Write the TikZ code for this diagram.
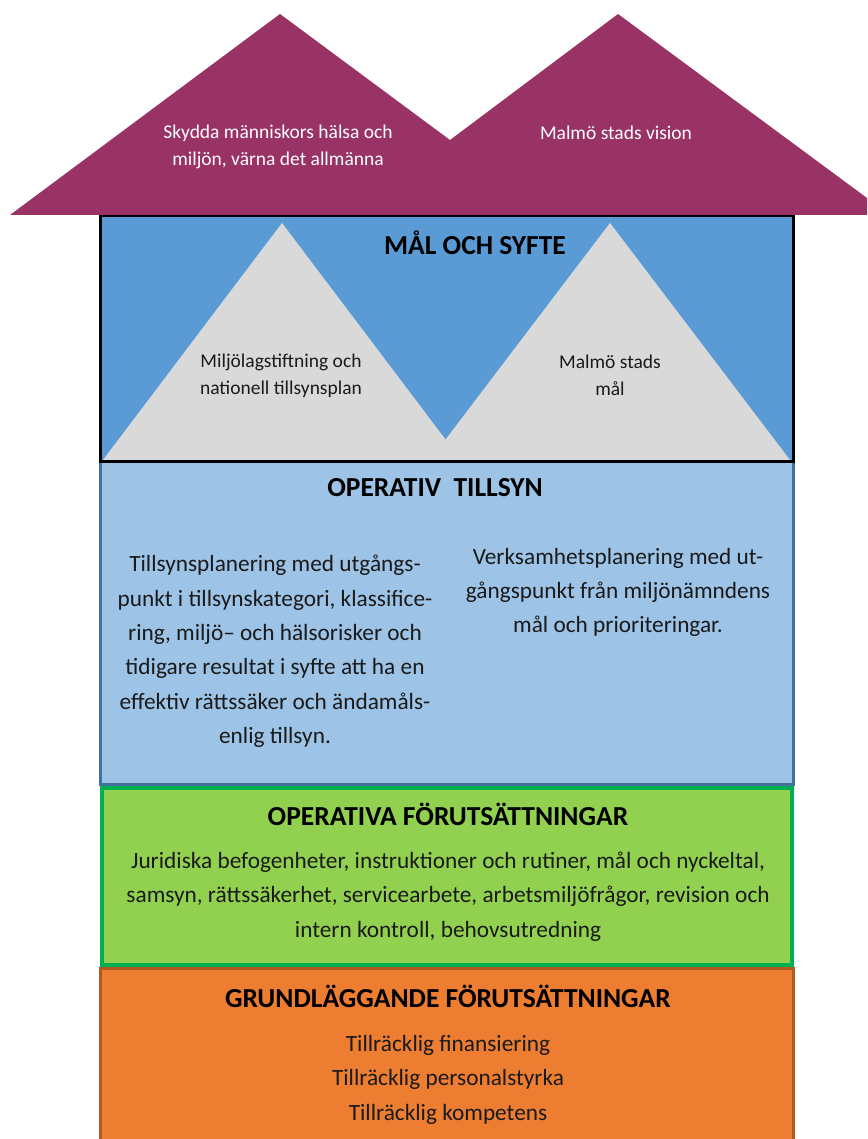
\documentclass[tikz,border=0pt]{standalone}
\usepackage{fontspec}
\setmainfont{Carlito}
\definecolor{roofc}{HTML}{993366}
\definecolor{malc}{HTML}{5B9BD5}
\definecolor{tric}{HTML}{D9D9D9}
\definecolor{opc}{HTML}{9DC3E6}
\definecolor{opb}{HTML}{41719C}
\definecolor{grc}{HTML}{92D050}
\definecolor{grb}{HTML}{00B050}
\definecolor{orc}{HTML}{ED7D31}
\definecolor{orb}{HTML}{AE5A21}
\definecolor{txt}{HTML}{1A1A1A}
\tikzset{
  roofText/.style={text=white, align=center, font=\fontsize{19.5}{27}\selectfont},
  triText/.style={text=txt, align=center, font=\fontsize{19.5}{27}\selectfont},
  headText/.style={text=black, align=center, font=\bfseries\fontsize{27.5}{30}\selectfont},
  bodyText/.style={text=txt, align=center, font=\fontsize{23.3}{34.4}\selectfont},
}
\begin{document}
\begin{tikzpicture}[x=1pt,y=-1pt]
\useasboundingbox (0,0) rectangle (867,1139);
\clip (0,0) rectangle (867,1139);
% bands
\path[fill=orc, draw=orb, line width=3pt] (100,968) rectangle (793,1150);
\path[fill=grc, draw=grb, line width=4pt] (102,788) rectangle (792,965);
\path[fill=opc, draw=opb, line width=3pt] (100,461) rectangle (793,784);
\path[fill=malc] (100,216) rectangle (793,461);
\path[fill=tric] (103,460) -- (282,223) -- (461,460) -- cycle;
\path[fill=tric] (430,460) -- (610,223) -- (790,460) -- cycle;
\path[draw=black, line width=3pt] (100,216) rectangle (793,461);
% roof
\path[fill=roofc] (10,215) -- (280,14) -- (450,140) -- (618,14) -- (890,215) -- cycle;
% texts
\node[roofText] (roofL) at (278,146.5) {Skydda människors hälsa och\\miljön, värna det allmänna};
\node[roofText] (roofR) at (616,133) {Malmö stads vision};
\node[headText] (malHead) at (475,243) {MÅL OCH SYFTE};
\node[triText] (triL) at (281,375.5) {Miljölagstiftning och\\nationell tillsynsplan};
\node[triText] (triR) at (610,375.5) {Malmö stads\\mål};
\node[headText] (opHead) at (435,488) {OPERATIV\ \ TILLSYN};
\node[bodyText] (opL) at (275,651.5) {Tillsynsplanering med utgångs-\\punkt i tillsynskategori, klassifice-\\ring, miljö– och hälsorisker och\\tidigare resultat i syfte att ha en\\effektiv rättssäker och ändamåls-\\enlig tillsyn.};
\node[bodyText] (opR) at (618,592.5) {Verksamhetsplanering med ut-\\gångspunkt från miljönämndens\\mål och prioriteringar.};
\node[headText] (grHead) at (448,814) {OPERATIVA FÖRUTSÄTTNINGAR};
\node[bodyText] (grBody) at (448,896.5) {Juridiska befogenheter, instruktioner och rutiner, mål och nyckeltal,\\samsyn, rättssäkerhet, servicearbete, arbetsmiljöfrågor, revision och\\intern kontroll, behovsutredning};
\node[headText] (orHead) at (448,996) {GRUNDLÄGGANDE FÖRUTSÄTTNINGAR};
\node[bodyText] (orBody) at (448,1079.5) {Tillräcklig finansiering\\Tillräcklig personalstyrka\\Tillräcklig kompetens};
\end{tikzpicture}
\end{document}
